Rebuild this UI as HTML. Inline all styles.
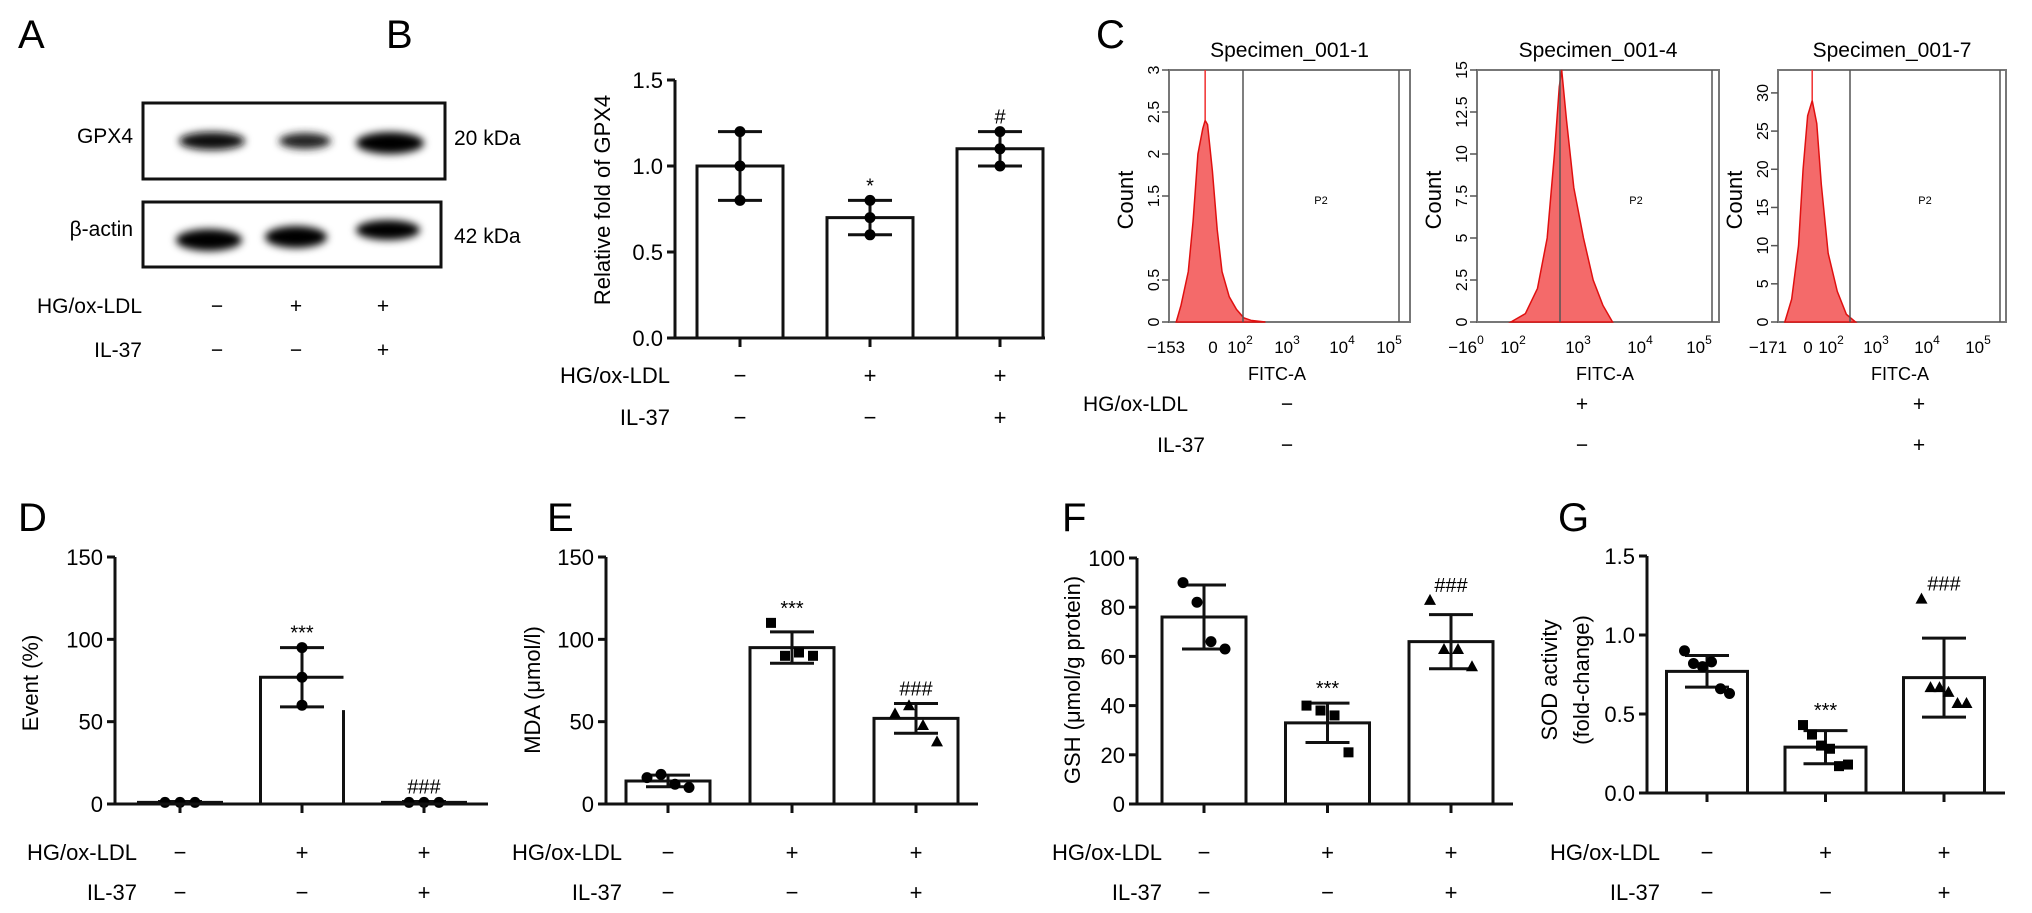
<!DOCTYPE html>
<html><head><meta charset="utf-8">
<style>
html,body{margin:0;padding:0;background:#fff;}
svg{display:block;font-family:"Liberation Sans",Arial,sans-serif;}
</style></head>
<body>
<svg id="fig" width="2032" height="913" viewBox="0 0 2032 913" xmlns="http://www.w3.org/2000/svg">
  <defs>
    <filter id="blur" x="-20%" y="-50%" width="140%" height="200%"><feGaussianBlur stdDeviation="4"/></filter>
  </defs>
  <g>
    <text x="18" y="48" font-size="40">A</text>
    <rect x="143" y="103" width="302" height="76" fill="#fff" stroke="#111" stroke-width="3"/>
    <ellipse cx="212" cy="141" rx="33" ry="9" fill="#111" filter="url(#blur)"/>
    <ellipse cx="305" cy="141" rx="26" ry="8" fill="#222" filter="url(#blur)"/>
    <ellipse cx="390" cy="143" rx="34" ry="11" fill="#000" filter="url(#blur)"/>
    <rect x="143" y="202" width="298" height="65" fill="#fff" stroke="#111" stroke-width="3"/>
    <ellipse cx="209" cy="240" rx="33" ry="11" fill="#000" filter="url(#blur)"/>
    <ellipse cx="296" cy="237" rx="31" ry="11" fill="#000" filter="url(#blur)"/>
    <ellipse cx="388" cy="230" rx="32" ry="10" fill="#000" filter="url(#blur)"/>
    <text x="133" y="143" font-size="21" text-anchor="end">GPX4</text>
    <text x="133" y="236" font-size="21" text-anchor="end">β-actin</text>
    <text x="454" y="145" font-size="21">20 kDa</text>
    <text x="454" y="243" font-size="21">42 kDa</text>
    <text x="142" y="313" font-size="21" text-anchor="end">HG/ox-LDL</text>
    <text x="142" y="357" font-size="21" text-anchor="end">IL-37</text>
    <g font-size="21" text-anchor="middle">
      <text x="217" y="313">−</text><text x="296" y="313">+</text><text x="383" y="313">+</text>
      <text x="217" y="357">−</text><text x="296" y="357">−</text><text x="383" y="357">+</text>
    </g>
  </g>
  <g id="charts"></g>
</svg>
<script>
const groups = ["control", "hg-oxldl", "hg-oxldl-il37"];
const hgSigns = ["−", "+", "+"];
const ilSigns = ["−", "−", "+"];

const bMeans = [1.0, 0.70, 1.10];
const bSd = [0.2, 0.10, 0.10];
const bPoints = [[1.2, 1.0, 0.8], [0.8, 0.7, 0.6], [1.2, 1.1, 1.0]];
const bTicks = [0.0, 0.5, 1.0, 1.5];
const bSig = ["", "*", "#"];

const dMeans = [1, 77, 1];
const dSd = [0.5, 18, 0.5];
const dPoints = [[1, 1, 1], [95, 77, 60], [1, 1, 1]];
const dTicks = [0, 50, 100, 150];
const dSig = ["", "***", "###"];
const dEdge = [null, 57, null];

const eMeans = [14, 95, 52];
const eSd = [3.5, 9.5, 9];
const ePoints = [[16, 18, 12, 10], [110, 90, 92, 90], [55, 60, 48, 38]];
const eTicks = [0, 50, 100, 150];
const eSig = ["", "***", "###"];

const fMeans = [76, 33, 66];
const fSd = [13, 8, 11];
const fPoints = [[90, 82, 66, 63], [40, 38, 36, 21], [83, 63, 63, 56]];
const fTicks = [0, 20, 40, 60, 80, 100];
const fSig = ["", "***", "###"];

const gMeans = [0.77, 0.29, 0.73];
const gSd = [0.10, 0.105, 0.25];
const gPoints = [[0.90, 0.82, 0.80, 0.83, 0.66, 0.63], [0.43, 0.37, 0.30, 0.28, 0.17, 0.18], [1.23, 0.67, 0.67, 0.64, 0.57, 0.57]];
const gTicks = [0.0, 0.5, 1.0, 1.5];
const gSig = ["", "***", "###"];

const h1x = [0.03,0.05,0.08,0.10,0.12,0.14,0.15,0.16,0.18,0.20,0.22,0.25,0.28,0.31,0.34,0.40];
const h1y = [0,0.2,0.6,1.2,2.0,2.3,2.4,2.35,1.8,1.1,0.6,0.3,0.15,0.05,0.02,0];
const h2x = [0.14,0.2,0.25,0.29,0.32,0.34,0.35,0.37,0.40,0.44,0.48,0.52,0.56];
const h2y = [0,0.5,2,5,10,14,15,12,8,5,2.5,1,0];
const h3x = [0.03,0.06,0.09,0.11,0.13,0.15,0.17,0.19,0.22,0.26,0.30,0.34];
const h3y = [0,3,10,20,27,29,26,18,9,4,1,0];
const h1ticks = [0, 0.5, 1.5, 2, 2.5, 3];
const h2ticks = [0, 2.5, 5, 7.5, 10, 12.5, 15];
const h3ticks = [0, 5, 10, 15, 20, 25, 30];

const NS = "http://www.w3.org/2000/svg";
const root = document.getElementById("charts");
function mk(tag, attrs, parent) {
  const e = document.createElementNS(NS, tag);
  for (const k in attrs) e.setAttribute(k, attrs[k]);
  (parent || root).appendChild(e);
  return e;
}
function txt(x, y, s, size, anchor, parent, rot) {
  const t = mk("text", {x: x, y: y, "font-size": size, "text-anchor": anchor || "start"}, parent);
  if (rot) t.setAttribute("transform", "rotate(-90 " + x + " " + y + ")");
  t.textContent = s;
  return t;
}

function marker(g, shape, cx, cy) {
  let m;
  if (shape === "square") m = mk("rect", {x: cx - 5, y: cy - 5, width: 10, height: 10, fill: "#000"}, g);
  else if (shape === "tri") m = mk("polygon", {points: (cx) + "," + (cy - 6) + " " + (cx + 6) + "," + (cy + 5) + " " + (cx - 6) + "," + (cy + 5), fill: "#000"}, g);
  else m = mk("circle", {cx: cx, cy: cy, r: 5.5, fill: "#000"}, g);
  
  
}

function barChart(cfg) {
  const g = mk("g", {});
  
  
  const ymax = cfg.ticks[cfg.ticks.length - 1];
  const y = v => cfg.y0 - (v / ymax) * (cfg.y0 - cfg.yTop);
  const x = i => cfg.c0 + i * cfg.step;
  const L = txt(cfg.letterX, cfg.letterY, cfg.letter, 40, "start", g);
  
  
  cfg.means.forEach((m, i) => {
    const xl = x(i) - cfg.bw / 2, xr = x(i) + cfg.bw / 2;
    const edge = cfg.edge && cfg.edge[i] != null ? y(cfg.edge[i]) : y(m);
    const p = mk("path", {d: "M" + xl + "," + y(0) + "V" + y(m) + "H" + xr + (edge === y(m) ? "V" + y(0) : "M" + xr + "," + edge + "V" + y(0)), fill: "#fff", stroke: "#111", "stroke-width": 3}, g);
    
    
    if (edge !== y(m)) p.setAttribute("fill", "none");
  });
  cfg.means.forEach((m, i) => {
    const eb = mk("path", {d: "M" + x(i) + "," + y(m + cfg.sd[i]) + "V" + y(m - cfg.sd[i]) + "M" + (x(i) - 22) + "," + y(m + cfg.sd[i]) + "h44M" + (x(i) - 22) + "," + y(m - cfg.sd[i]) + "h44", stroke: "#111", "stroke-width": 3, fill: "none"}, g);
    
    
    const pts = cfg.points[i];
    const sp = cfg.spreads ? cfg.spreads[i] : (cfg.spread ?? 12);
    pts.forEach((v, j) => {
      const off = (j - (pts.length - 1) / 2) * sp;
      marker(g, cfg.shapes[i], x(i) + off, y(v));
    });
    if (cfg.sig[i]) {
      const top = Math.max(m + cfg.sd[i], Math.max.apply(null, pts));
      const s = txt(x(i), y(top) - 8, cfg.sig[i], 20, "middle", g);
      
      
    }
  });
  const ax = mk("path", {d: "M" + cfg.ax + "," + cfg.yTop + "V" + y(0) + "H" + cfg.axEnd, stroke: "#111", "stroke-width": 3, fill: "none"}, g);
  
  
  cfg.ticks.forEach(t => {
    mk("line", {x1: cfg.ax - 8, x2: cfg.ax, y1: y(t), y2: y(t), stroke: "#111", "stroke-width": 3}, g);
    const tl = txt(cfg.ax - 12, y(t) + 8, cfg.fmt(t), 22, "end", g);
    
    
  });
  cfg.means.forEach((m, i) => mk("line", {x1: x(i), x2: x(i), y1: y(0), y2: y(0) + 9, stroke: "#111", "stroke-width": 3}, g));
  cfg.ylabel.forEach((s, k) => {
    const yl = txt(cfg.ylx + k * 32, cfg.yly, s, 22, "middle", g, true);
    
    
  });
  const h = txt(cfg.rowRight, cfg.row1, "HG/ox-LDL", 22, "end", g);
  
  
  const il = txt(cfg.rowRight, cfg.row2, "IL-37", 22, "end", g);
  
  
  groups.forEach((gr, i) => {
    txt(x(i), cfg.row1, hgSigns[i], 22, "middle", g);
    txt(x(i), cfg.row2, ilSigns[i], 22, "middle", g);
  });
}

const f1 = t => t.toFixed(1);
const f0 = t => String(t);
barChart({name: "chart-b-gpx4", letter: "B", letterX: 386, letterY: 48, means: bMeans, sd: bSd, points: bPoints, ticks: bTicks, sig: bSig, shapes: ["circle","circle","circle"], spread: 0,
  y0: 338, yTop: 80, c0: 740, step: 130, bw: 86, ax: 675, axEnd: 1045, fmt: f1, ylabel: ["Relative fold of GPX4"], ylx: 610, yly: 200, rowRight: 670, row1: 383, row2: 425});
barChart({name: "chart-d-event", letter: "D", letterX: 18, letterY: 531, means: dMeans, sd: dSd, points: dPoints, ticks: dTicks, sig: dSig, edge: dEdge, shapes: ["circle","circle","circle"], spreads: [15, 0, 15],
  y0: 804, yTop: 557, c0: 180, step: 122, bw: 83, ax: 115, axEnd: 488, fmt: f0, ylabel: ["Event (%)"], ylx: 38, yly: 683, rowRight: 137, row1: 860, row2: 900});
barChart({name: "chart-e-mda", letter: "E", letterX: 547, letterY: 531, means: eMeans, sd: eSd, points: ePoints, ticks: eTicks, sig: eSig, shapes: ["circle","square","tri"], spread: 14,
  y0: 804, yTop: 557, c0: 668, step: 124, bw: 84, ax: 606, axEnd: 978, fmt: f0, ylabel: ["MDA (μmol/l)"], ylx: 540, yly: 690, rowRight: 622, row1: 860, row2: 900});
barChart({name: "chart-f-gsh", letter: "F", letterX: 1062, letterY: 531, means: fMeans, sd: fSd, points: fPoints, ticks: fTicks, sig: fSig, shapes: ["circle","square","tri"], spread: 14,
  y0: 804, yTop: 558, c0: 1204, step: 123.5, bw: 84, ax: 1137, axEnd: 1513, fmt: f0, ylabel: ["GSH (μmol/g protein)"], ylx: 1080, yly: 680, rowRight: 1162, row1: 860, row2: 900});
barChart({name: "chart-g-sod", letter: "G", letterX: 1558, letterY: 531, means: gMeans, sd: gSd, points: gPoints, ticks: gTicks, sig: gSig, shapes: ["circle","square","tri"], spread: 9,
  y0: 793, yTop: 556, c0: 1707, step: 118.5, bw: 81, ax: 1647, axEnd: 2005, fmt: f1, ylabel: ["SOD activity", "(fold-change)"], ylx: 1557, yly: 680, rowRight: 1660, row1: 860, row2: 900});

const cLabel = txt(1096, 48, "C", 40, "start");



function hist(cfg) {
  const g = mk("g", {});
  
  
  const X = f => cfg.x0 + f * (cfg.x1 - cfg.x0);
  const Y = v => cfg.yb - v / cfg.ymax * (cfg.yb - cfg.yt);
  mk("rect", {x: cfg.x0, y: cfg.yt, width: cfg.x1 - cfg.x0, height: cfg.yb - cfg.yt, fill: "#fff", stroke: "#777", "stroke-width": 2}, g);
  let d = "M" + X(cfg.xs[0]) + "," + Y(0);
  cfg.xs.forEach((f, i) => { d += "L" + X(f) + "," + Y(cfg.ys[i]); });
  d += "L" + X(cfg.xs[cfg.xs.length - 1]) + "," + Y(0) + "Z";
  const area = mk("path", {d: d, fill: "#f46a6a", stroke: "#e01010", "stroke-width": 1.5}, g);
  
  
  let pk = 0; cfg.ys.forEach((v, i) => { if (v > cfg.ys[pk]) pk = i; });
  mk("line", {x1: X(cfg.xs[pk]), x2: X(cfg.xs[pk]), y1: cfg.yt, y2: Y(cfg.ys[pk]), stroke: "#f03030", "stroke-width": 1.5}, g);
  const gate = mk("path", {d: "M" + cfg.gate + "," + cfg.yt + "V" + cfg.yb + "M" + cfg.gateR + "," + cfg.yt + "V" + cfg.yb, stroke: "#555", "stroke-width": 1.5}, g);
  
  
  txt((cfg.gate + cfg.gateR) / 2, 204, "P2", 11, "middle", g);
  cfg.ticks.forEach(t => {
    mk("line", {x1: cfg.x0 - 7, x2: cfg.x0, y1: Y(t), y2: Y(t), stroke: "#555", "stroke-width": 1.5}, g);
    txt(cfg.x0 - 10, Y(t), String(t), 16, "middle", g, true);
  });
  const c = txt(cfg.x0 - 36, 200, "Count", 22, "middle", g, true);
  
  
  const ti = txt((cfg.x0 + cfg.x1) / 2, 57, cfg.title, 21, "middle", g);
  
  
  cfg.xl.forEach((s, i) => {
    const t = mk("text", {x: cfg.xlp[i], y: 353, "font-size": 17, "text-anchor": "middle"}, g);
    t.textContent = s[0];
    if (s[1]) { const sp = mk("tspan", {dy: -9, "font-size": 12}, t); sp.textContent = s[1]; }
  });
  const fx = txt(cfg.fitc, 380, "FITC-A", 18, "middle", g);
  
  
}
hist({name: "histogram-specimen-1", title: "Specimen_001-1", x0: 1169, x1: 1410, yt: 70, yb: 322, ymax: 3, xs: h1x, ys: h1y, ticks: h1ticks, gate: 1243, gateR: 1399,
  xl: [["−153"],["0"],["10","2"],["10","3"],["10","4"],["10","5"]], xlp: [1166,1213,1240,1287,1342,1389], fitc: 1277});
hist({name: "histogram-specimen-4", title: "Specimen_001-4", x0: 1477, x1: 1719, yt: 70, yb: 322, ymax: 15, xs: h2x, ys: h2y, ticks: h2ticks, gate: 1560, gateR: 1712,
  xl: [["−16","0"],["10","2"],["10","3"],["10","4"],["10","5"]], xlp: [1466,1513,1578,1640,1699], fitc: 1605});
hist({name: "histogram-specimen-7", title: "Specimen_001-7", x0: 1778, x1: 2006, yt: 70, yb: 322, ymax: 33, xs: h3x, ys: h3y, ticks: h3ticks, gate: 1850, gateR: 2000,
  xl: [["−171"],["0"],["10","2"],["10","3"],["10","4"],["10","5"]], xlp: [1768,1808,1831,1876,1927,1978], fitc: 1900});

const cRow = mk("g", {"font-size": 21});


txt(1083, 411, "HG/ox-LDL", 21, "start", cRow);
txt(1205, 452, "IL-37", 21, "end", cRow);
const cCols = [1287, 1582, 1919];
groups.forEach((gr, i) => {
  txt(cCols[i], 411, hgSigns[i], 21, "middle", cRow);
  txt(cCols[i], 452, ilSigns[i], 21, "middle", cRow);
});
</script>
</body></html>
